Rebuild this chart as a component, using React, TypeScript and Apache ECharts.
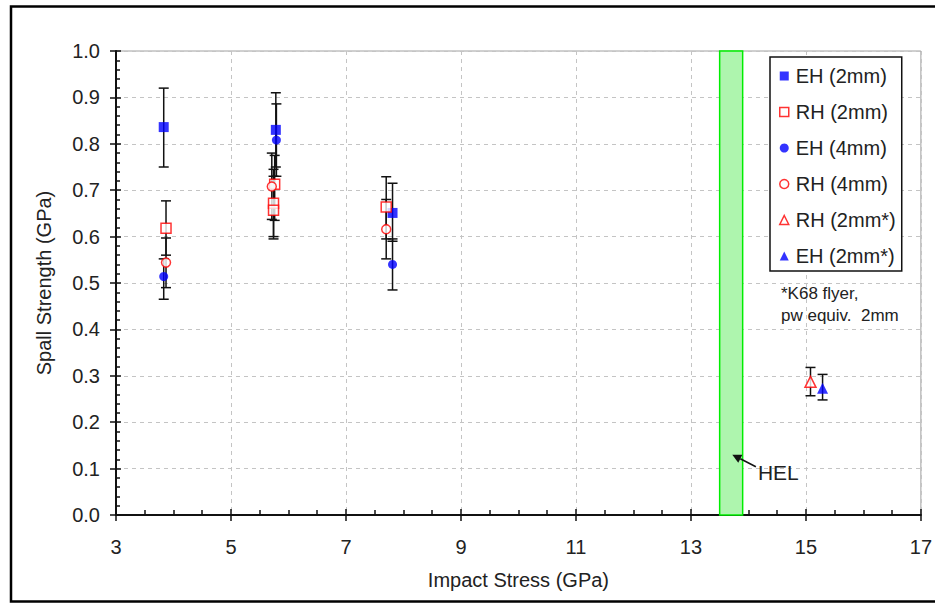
import React, { useEffect, useRef } from "react";
import * as echarts from "echarts";

// ---- Data ----
const EH2_x = [3.83, 5.78, 7.81];
const EH2_y = [0.836, 0.83, 0.651];
const EH2_lo = [0.75, 0.75, 0.59];
const EH2_hi = [0.92, 0.91, 0.715];

const RH2_x = [3.87, 5.76, 5.74, 5.74, 7.7];
const RH2_y = [0.618, 0.713, 0.672, 0.657, 0.664];
const RH2_lo = [0.56, 0.635, 0.6, 0.595, 0.595];
const RH2_hi = [0.677, 0.775, 0.745, 0.73, 0.729];

const EH4_x = [3.83, 5.79, 7.81];
const EH4_y = [0.514, 0.808, 0.54];
const EH4_lo = [0.465, 0.73, 0.485];
const EH4_hi = [0.552, 0.886, 0.595];

const RH4_x = [3.87, 5.71, 7.7];
const RH4_y = [0.544, 0.708, 0.616];
const RH4_lo = [0.49, 0.637, 0.552];
const RH4_hi = [0.597, 0.78, 0.68];

const RH2s_x = [15.08];
const RH2s_y = [0.287];
const RH2s_lo = [0.257];
const RH2s_hi = [0.318];

const EH2s_x = [15.29];
const EH2s_y = [0.273];
const EH2s_lo = [0.248];
const EH2s_hi = [0.303];

const HEL_range = [13.5, 13.9];
const HEL_arrowTip = [13.72, 0.13];
const HEL_arrowTail = [14.13, 0.104];

const seriesNames = ["EH (2mm)", "RH (2mm)", "EH (4mm)", "RH (4mm)", "RH (2mm*)", "EH (2mm*)"];
const footnote = ["*K68 flyer,", "pw equiv.  2mm"];

const FONT = "'Liberation Sans', Arial, sans-serif";
const TXT = "#222";
const BLUE = "#0000ff";
const RED = "#ff0000";

const pts = (xs: number[], ys: number[]) => xs.map((x, i) => [x, ys[i]]);
const errs = (xs: number[], lo: number[], hi: number[]) => xs.map((x, i) => [x, lo[i], hi[i]]);

export default function App() {
  const ref = useRef<HTMLDivElement>(null);
  useEffect(() => {
    if (!ref.current) return;
    document.body.style.margin = "0";
    document.body.style.overflow = "hidden";
    const chart = echarts.init(ref.current, undefined, { renderer: "svg" });

    const allErr = [
      ...errs(EH2_x, EH2_lo, EH2_hi),
      ...errs(RH2_x, RH2_lo, RH2_hi),
      ...errs(EH4_x, EH4_lo, EH4_hi),
      ...errs(RH4_x, RH4_lo, RH4_hi),
      ...errs(RH2s_x, RH2s_lo, RH2s_hi),
      ...errs(EH2s_x, EH2s_lo, EH2s_hi),
    ];

    const styles: any[] = [
      { symbol: "rect", size: 10, itemStyle: { color: BLUE } },
      { symbol: "rect", size: 10, itemStyle: { color: "#fff", borderColor: RED, borderWidth: 1.5 } },
      { symbol: "circle", size: 9, itemStyle: { color: BLUE } },
      { symbol: "circle", size: 9, itemStyle: { color: "#fff", borderColor: RED, borderWidth: 1.5 } },
      { symbol: "triangle", size: 11, itemStyle: { color: "#fff", borderColor: RED, borderWidth: 1.5 } },
      { symbol: "triangle", size: 11, itemStyle: { color: BLUE } },
    ];
    const datas = [
      pts(EH2_x, EH2_y),
      pts(RH2_x, RH2_y),
      pts(EH4_x, EH4_y),
      pts(RH4_x, RH4_y),
      pts(RH2s_x, RH2s_y),
      pts(EH2s_x, EH2s_y),
    ];

    const option: any = {
      animation: false,
      grid: {
        left: 116,
        top: 51,
        right: 9,
        bottom: 89,
        show: true,
        borderColor: "#a0a0a0",
        borderWidth: 1,
        backgroundColor: "transparent",
      },
      xAxis: [
        {
          type: "value",
          min: 3,
          max: 17,
          interval: 2,
          name: "Impact Stress (GPa)",
          nameLocation: "middle",
          nameGap: 55,
          nameTextStyle: { fontFamily: FONT, fontSize: 20, color: TXT },
          axisLine: { show: true, lineStyle: { color: "#111", width: 2 } },
          axisTick: { show: true, inside: true, length: 6, lineStyle: { color: "#111", width: 1.5 } },
          minorTick: { show: true, splitNumber: 4, length: 5, lineStyle: { color: "#111", width: 1.5 } },
          axisLabel: { fontFamily: FONT, fontSize: 20, color: TXT, margin: 22 },
          splitLine: { show: true, lineStyle: { color: "#c4c4c4", width: 1, type: [4, 4] } },
        },
        {
          type: "value",
          min: 3,
          max: 17,
          interval: 2,
          position: "bottom",
          axisLine: { show: false },
          axisTick: { show: true, inside: false, length: 6, lineStyle: { color: "#111", width: 1.5 } },
          axisLabel: { show: false },
          splitLine: { show: false },
        },
      ],
      yAxis: [
        {
          type: "value",
          min: 0,
          max: 1,
          interval: 0.1,
          name: "Spall Strength (GPa)",
          nameLocation: "middle",
          nameGap: 62,
          nameTextStyle: { fontFamily: FONT, fontSize: 20, color: TXT },
          axisLine: { show: true, lineStyle: { color: "#111", width: 2 } },
          axisTick: { show: true, inside: true, length: 5, lineStyle: { color: "#111", width: 1.5 } },
          minorTick: { show: true, splitNumber: 5, length: 4, lineStyle: { color: "#111", width: 1.5 } },
          axisLabel: {
            fontFamily: FONT,
            fontSize: 20,
            color: TXT,
            margin: 16,
            formatter: (v: number) => v.toFixed(1),
          },
          splitLine: { show: true, lineStyle: { color: "#c4c4c4", width: 1, type: [4, 4] } },
        },
        {
          type: "value",
          min: 0,
          max: 1,
          interval: 0.1,
          position: "left",
          axisLine: { show: false },
          axisTick: { show: true, inside: false, length: 6, lineStyle: { color: "#111", width: 1.5 } },
          axisLabel: { show: false },
          splitLine: { show: false },
        },
      ],
      legend: {
        orient: "vertical",
        left: 770,
        top: 57,
        padding: [9, 6, 5, 9],
        itemGap: 16,
        itemWidth: 9,
        itemHeight: 9,
        backgroundColor: "#fff",
        borderColor: "#111",
        borderWidth: 1.5,
        borderRadius: 0,
        textStyle: { fontFamily: FONT, fontSize: 20, color: TXT, padding: [0, 0, 0, 2] },
        data: seriesNames.map((n, i) => ({
          name: n,
          icon: styles[i].symbol,
          itemStyle: { ...styles[i].itemStyle, borderWidth: styles[i].itemStyle.borderWidth || 0 },
        })),
      },
      series: [
        {
          type: "custom",
          name: "HEL band",
          xAxisIndex: 0,
          yAxisIndex: 0,
          silent: true,
          z: 1,
          data: [[HEL_range[0], HEL_range[1]]],
          encode: { x: [0, 1] },
          renderItem: (params: any, api: any) => {
            const a = api.coord([api.value(0), 1]);
            const b = api.coord([api.value(1), 0]);
            return {
              type: "rect",
              shape: { x: a[0], y: a[1], width: b[0] - a[0], height: b[1] - a[1] },
              style: { fill: "#aef5ae", stroke: "#00ee00", lineWidth: 1.5 },
            };
          },
        },
        {
          type: "custom",
          name: "error bars",
          xAxisIndex: 0,
          yAxisIndex: 0,
          silent: true,
          z: 3,
          data: allErr,
          encode: { x: 0, y: [1, 2] },
          renderItem: (params: any, api: any) => {
            const x = api.value(0);
            const pLo = api.coord([x, api.value(1)]);
            const pHi = api.coord([x, api.value(2)]);
            const w = 5;
            const st = { stroke: "#111", lineWidth: 1.5 };
            return {
              type: "group",
              children: [
                { type: "line", shape: { x1: pLo[0], y1: pLo[1], x2: pHi[0], y2: pHi[1] }, style: st },
                { type: "line", shape: { x1: pLo[0] - w, y1: pLo[1], x2: pLo[0] + w, y2: pLo[1] }, style: st },
                { type: "line", shape: { x1: pHi[0] - w, y1: pHi[1], x2: pHi[0] + w, y2: pHi[1] }, style: st },
              ],
            };
          },
        },
        ...seriesNames.map((n, i) => ({
          type: "scatter",
          name: n,
          xAxisIndex: 0,
          yAxisIndex: 0,
          z: 5,
          symbol: styles[i].symbol,
          symbolSize: styles[i].size,
          itemStyle: styles[i].itemStyle,
          data: datas[i],
        })),
      ],
    };

    chart.setOption(option);

    const tip = chart.convertToPixel({ gridIndex: 0 }, HEL_arrowTip) as number[];
    const tail = chart.convertToPixel({ gridIndex: 0 }, HEL_arrowTail) as number[];
    const dx = tip[0] - tail[0];
    const dy = tip[1] - tail[1];
    const len = Math.sqrt(dx * dx + dy * dy);
    const ux = dx / len;
    const uy = dy / len;
    const ah = 9;
    const aw = 4.5;
    const base = [tip[0] - ux * ah, tip[1] - uy * ah];
    const legendBottom = 270;

    chart.setOption({
      graphic: [
        {
          type: "polyline",
          shape: {
            points: [
              [935, 6.5],
              [11, 6.5],
              [11, 601.5],
              [935, 601.5],
            ],
          },
          style: { fill: "none", stroke: "#000", lineWidth: 2.5 },
          silent: true,
          z: 0,
        },
        {
          type: "line",
          shape: { x1: tail[0], y1: tail[1], x2: base[0], y2: base[1] },
          style: { stroke: "#111", lineWidth: 1.5 },
          z: 10,
        },
        {
          type: "polygon",
          shape: {
            points: [
              tip,
              [base[0] - uy * aw, base[1] + ux * aw],
              [base[0] + uy * aw, base[1] - ux * aw],
            ],
          },
          style: { fill: "#111" },
          z: 10,
        },
        {
          type: "text",
          x: tail[0] + 2,
          y: tail[1] + 6,
          style: {
            text: "HEL",
            font: `21px ${FONT}`,
            fill: TXT,
            textVerticalAlign: "middle",
          },
          z: 10,
        },
        {
          type: "text",
          x: 781,
          y: legendBottom + 12,
          style: {
            text: footnote.join("\n"),
            font: `17px ${FONT}`,
            lineHeight: 22,
            fill: TXT,
          },
          z: 10,
        },
      ],
    });

    return () => chart.dispose();
  }, []);

  return <div ref={ref} style={{ width: 935, height: 604 }} />;
}
